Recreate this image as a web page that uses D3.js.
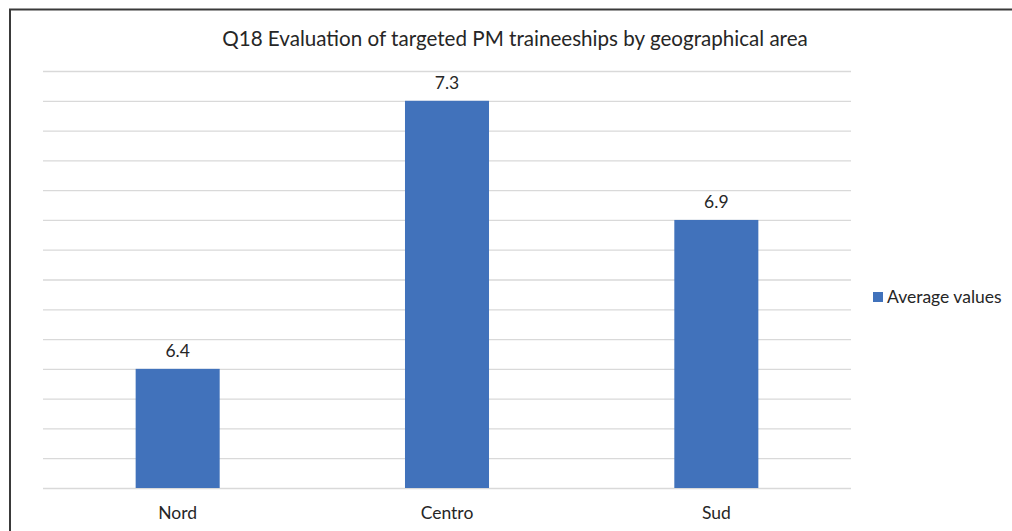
<!DOCTYPE html>
<html>
<head>
<meta charset="utf-8">
<script src="https://cdn.jsdelivr.net/npm/d3@7"></script>
<style>
  html, body { margin: 0; padding: 0; background: #fff; }
  svg { display: block; }
</style>
</head>
<body>
<svg id="chart" width="1012" height="531"></svg>
<script>
const categories = ["Nord", "Centro", "Sud"];
const values = [6.4, 7.3, 6.9];
const seriesName = "Average values";
const title = "Q18 Evaluation of targeted PM traineeships by geographical area";
const yDomain = [6.0, 7.4];
const yTicks = d3.range(60, 75).map(v => v / 10);

const svg = d3.select("#chart");
const font = "Lato, 'Open Sans', sans-serif";
const barColor = "#4172bb";

const plot = { left: 43, right: 851, top: 71, bottom: 488 };

const x = d3.scaleBand()
  .domain(categories)
  .range([plot.left, plot.right])
  .paddingInner(0.688)
  .paddingOuter(0.344);

const y = d3.scaleLinear()
  .domain(yDomain)
  .range([plot.bottom, plot.top]);

// frame
svg.append("line").attr("x1", 9).attr("x2", 1012).attr("y1", 9.5).attr("y2", 9.5)
  .attr("stroke", "#3a3a3a").attr("stroke-width", 2);
svg.append("line").attr("x1", 10).attr("x2", 10).attr("y1", 9).attr("y2", 531)
  .attr("stroke", "#3a3a3a").attr("stroke-width", 2);

// gridlines
const yAxis = d3.axisLeft(y).tickValues(yTicks).tickSize(-(plot.right - plot.left)).tickFormat("");
const g = svg.append("g").attr("transform", `translate(${plot.left},0)`).call(yAxis);
g.select(".domain").remove();
g.selectAll(".tick line").attr("stroke", "#d9d9d9").attr("stroke-width", 1.3);

// bars
svg.append("g").selectAll("rect").data(values).join("rect")
  .attr("x", (d, i) => x(categories[i]))
  .attr("width", x.bandwidth())
  .attr("y", d => y(d))
  .attr("height", d => y(yDomain[0]) - y(d))
  .attr("fill", barColor);

// data labels
svg.append("g").selectAll("text").data(values).join("text")
  .attr("x", (d, i) => x(categories[i]) + x.bandwidth() / 2)
  .attr("y", d => y(d) - 12)
  .attr("text-anchor", "middle")
  .attr("font-family", font)
  .attr("font-size", 17.5)
  .attr("fill", "#262626")
  .text(d => d.toFixed(1));

// x axis labels
const xAxis = d3.axisBottom(x).tickSize(0).tickPadding(0);
const gx = svg.append("g").attr("transform", `translate(0,${plot.bottom})`).call(xAxis);
gx.select(".domain").remove();
gx.selectAll("text")
  .attr("dy", null)
  .attr("y", 31)
  .attr("font-family", font)
  .attr("font-size", 17.5)
  .attr("fill", "#262626");

// title
svg.append("text")
  .attr("x", 515).attr("y", 46)
  .attr("text-anchor", "middle")
  .attr("font-family", font)
  .attr("font-size", 20.6)
  .attr("fill", "#262626")
  .text(title);

// legend
const lg = svg.append("g").attr("transform", "translate(873,292)");
lg.append("rect").attr("width", 10).attr("height", 10).attr("fill", barColor);
lg.append("text").attr("x", 14).attr("y", 11)
  .attr("font-family", font)
  .attr("font-size", 17.5)
  .attr("fill", "#262626")
  .text(seriesName);
</script>
</body>
</html>
